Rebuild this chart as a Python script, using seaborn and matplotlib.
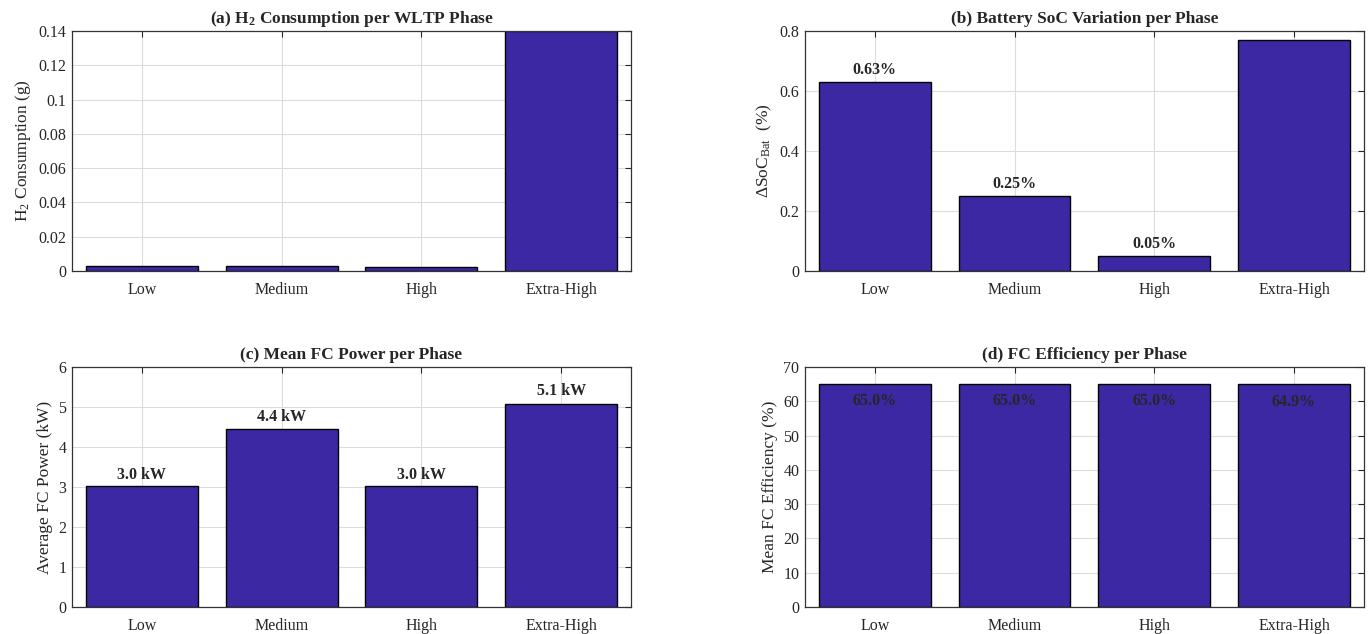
import matplotlib
matplotlib.use("Agg")
import matplotlib.pyplot as plt
import seaborn as sns
import pandas as pd
from matplotlib.ticker import FuncFormatter

# ---------------- data ----------------
phases = ["Low", "Medium", "High", "Extra-High"]
h2_grams = [0.0030, 0.0030, 0.0025, 0.1400]
soc_delta = [0.63, 0.25, 0.05, 0.77]
soc_labels = ["0.63%", "0.25%", "0.05%", ""]
fc_power = [3.02, 4.44, 3.02, 5.08]
power_labels = ["3.0 kW", "4.4 kW", "3.0 kW", "5.1 kW"]
fc_eff = [64.98, 64.98, 64.97, 64.92]
eff_labels = ["65.0%", "65.0%", "65.0%", "64.9%"]

bar_color = "#3C28A3"

sns.set_theme(style="white")
plt.rcParams["font.family"] = ["Liberation Serif", "DejaVu Serif"]
plt.rcParams["mathtext.fontset"] = "custom"
plt.rcParams["mathtext.rm"] = "Liberation Serif"
plt.rcParams["mathtext.it"] = "Liberation Serif"
plt.rcParams["mathtext.bf"] = "Liberation Serif:bold"
plt.rcParams["mathtext.default"] = "regular"

fig = plt.figure(figsize=(13.72, 6.34), dpi=100)
ax_a = fig.add_axes([0.0525, 0.5726, 0.4074, 0.3785])
ax_b = fig.add_axes([0.5867, 0.5726, 0.4074, 0.3785])
ax_c = fig.add_axes([0.0525, 0.0426, 0.4074, 0.3785])
ax_d = fig.add_axes([0.5867, 0.0426, 0.4074, 0.3785])


def style_axes(ax, ymax, step, title, ylabel, fmt=None):
    ax.set_xlim(-0.5, 3.5)
    ax.set_ylim(0, ymax)
    ax.set_yticks([i * step for i in range(int(round(ymax / step)) + 1)])
    if fmt is not None:
        ax.yaxis.set_major_formatter(fmt)
    ax.grid(True, color="#DCDCDC", linewidth=0.8)
    ax.set_axisbelow(True)
    ax.tick_params(direction="in", length=4, top=True, right=True,
                   labelsize=11.5, colors="#262626", width=0.8)
    ax.tick_params(axis="x", pad=8)
    ax.tick_params(axis="y", pad=4)
    for sp in ax.spines.values():
        sp.set_color("#333333")
        sp.set_linewidth(0.9)
    ax.set_title(title, fontsize=12.5, fontweight="bold", pad=6)
    ax.set_ylabel(ylabel, fontsize=12.5, color="#262626", labelpad=4)
    ax.set_xlabel("")


def draw_bars(ax, vals):
    df = pd.DataFrame({"phase": phases, "val": vals})
    sns.barplot(data=df, x="phase", y="val", order=phases, color=bar_color,
                saturation=1, width=0.8, edgecolor="black", linewidth=1.0, ax=ax)


gfmt = FuncFormatter(lambda v, p: ("%g" % round(v, 6)))

# (a)
draw_bars(ax_a, h2_grams)
style_axes(ax_a, 0.14, 0.02, r"(a) H$_\mathbf{2}$ Consumption per WLTP Phase",
           "H$_2$ Consumption (g)", gfmt)

# (b)
draw_bars(ax_b, soc_delta)
style_axes(ax_b, 0.8, 0.2, "(b) Battery SoC Variation per Phase",
           r"$\Delta$SoC$_{Bat}$  (%)", gfmt)
for i, (v, lab) in enumerate(zip(soc_delta, soc_labels)):
    if lab:
        ax_b.text(i, v + 0.012, lab, ha="center", va="bottom",
                  fontsize=11.5, fontweight="bold")

# (c)
draw_bars(ax_c, fc_power)
style_axes(ax_c, 6, 1, "(c) Mean FC Power per Phase",
           "Average FC Power (kW)", gfmt)
for i, (v, lab) in enumerate(zip(fc_power, power_labels)):
    ax_c.text(i, v * 1.025, lab, ha="center", va="bottom",
              fontsize=11.5, fontweight="bold")

# (d)
draw_bars(ax_d, fc_eff)
style_axes(ax_d, 70, 10, "(d) FC Efficiency per Phase",
           "Mean FC Efficiency (%)", gfmt)
for i, (v, lab) in enumerate(zip(fc_eff, eff_labels)):
    ax_d.text(i, v - 5, lab, ha="center", va="center",
              fontsize=11.5, fontweight="bold")

fig.savefig("out.png", dpi=100)
